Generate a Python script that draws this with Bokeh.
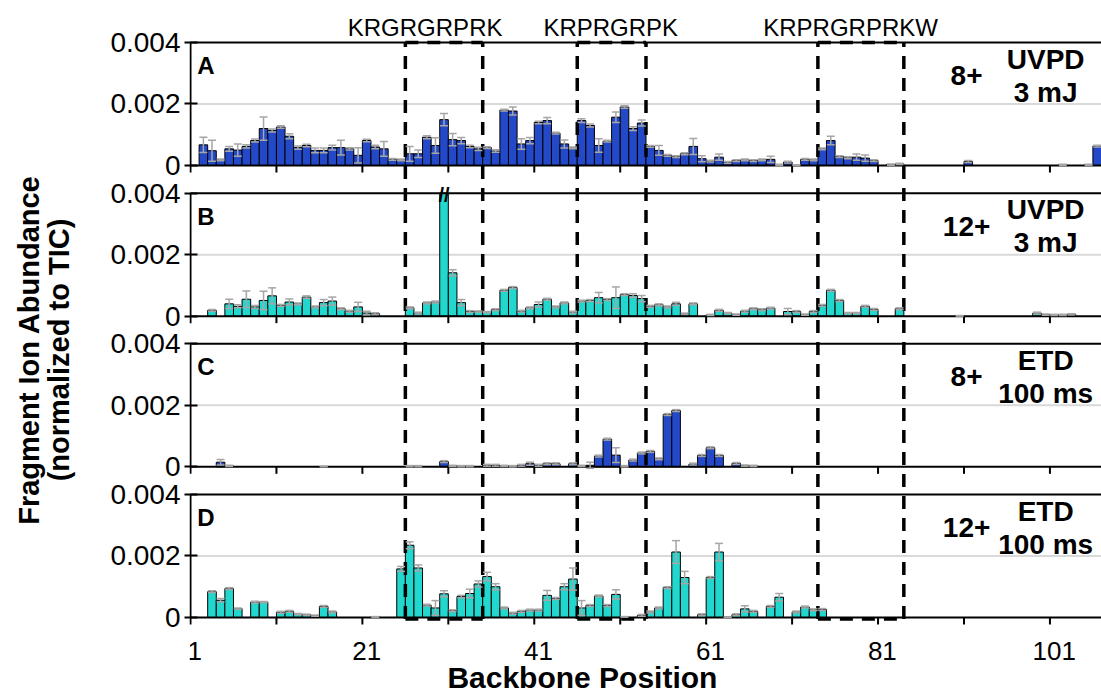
import numpy as np
from bokeh.plotting import figure
from bokeh.models import ColumnDataSource, Whisker, TeeHead, FixedTicker, Label, Range1d
from bokeh.embed import file_html
from bokeh.resources import INLINE

positions = list(range(1, 107))

# Fragment ion abundance (normalized to TIC), in units of 1e-4, positions 1..106
uvpd_8 = [
    0, 6.7, 4.8, 1.8, 5.4, 5.0, 6.2, 8.1, 12.0, 11.4,
    12.5, 9.5, 5.8, 6.5, 4.9, 4.9, 5.8, 5.8, 5.4, 3.3,
    8.1, 6.0, 5.4, 2.0, 1.8, 3.8, 3.8, 9.2, 6.5, 14.9,
    8.4, 8.1, 6.2, 5.4, 5.8, 4.7, 18.0, 17.7, 7.0, 8.1,
    14.0, 14.6, 10.5, 7.0, 5.7, 14.6, 13.0, 6.5, 7.9, 15.7,
    19.0, 12.0, 13.8, 6.2, 4.9, 3.3, 2.9, 3.8, 6.2, 2.2,
    1.4, 2.7, 1.0, 1.6, 1.8, 1.6, 1.8, 2.0, 0.2, 1.1,
    0.1, 2.0, 1.8, 5.4, 8.1, 2.9, 2.5, 2.7, 2.4, 1.6,
    0, 0.3, 0.5, 0, 0, 0, 0, 0, 0, 0,
    1.3, 0, 0, 0, 0, 0, 0, 0, 0, 0,
    0, 0.2, 0, 0, 0.2, 6.3]
uvpd_8_err = [
    0, 2.5, 3.4, 0.3, 0.8, 2.0, 0.5, 0.5, 3.8, 0.5,
    0.4, 0.8, 0.5, 0.4, 0.8, 0.8, 0.8, 2.4, 0.4, 2.5,
    0.4, 0.6, 2.4, 0.3, 0.3, 2.4, 1.2, 0.5, 2.5, 2.0,
    2.0, 1.0, 0.4, 0.5, 0.3, 0.4, 0.3, 1.3, 1.7, 1.0,
    0.4, 1.0, 0.3, 1.3, 0.3, 0.6, 0.5, 2.2, 0.3, 1.7,
    0.4, 0.6, 1.0, 0.3, 1.6, 0.3, 0.3, 0.3, 2.6, 1.0,
    0.3, 1.0, 0.3, 0.3, 0.3, 0.3, 0.3, 1.0, 0.2, 0.3,
    0.1, 0.3, 0.3, 0.3, 1.4, 0.3, 0.3, 1.0, 1.0, 0.3,
    0, 0.2, 0.2, 0, 0, 0, 0, 0, 0, 0,
    0.3, 0, 0, 0, 0, 0, 0, 0, 0, 0,
    0, 0.2, 0, 0, 0.2, 0.3]

uvpd_12 = [
    0, 0, 1.9, 0, 4.0, 3.2, 5.5, 3.0, 5.1, 6.6,
    3.5, 4.6, 4.0, 6.2, 3.0, 4.4, 4.9, 2.4, 1.6, 3.0,
    1.0, 0.8, 0, 0, 0, 2.7, 1.0, 4.3, 4.6, 45.0,
    14.1, 4.4, 1.5, 1.5, 1.3, 2.1, 8.4, 9.3, 1.6, 2.7,
    3.8, 5.5, 3.0, 4.3, 1.3, 4.9, 5.1, 6.0, 5.4, 6.0,
    7.0, 6.7, 5.7, 3.2, 3.7, 3.0, 4.0, 0.8, 4.0, 0,
    0.4, 1.9, 1.0, 0.5, 1.6, 2.4, 2.1, 2.6, 0, 1.5,
    1.5, 0.5, 1.5, 3.5, 8.4, 5.1, 1.0, 1.0, 3.2, 2.2,
    0, 0, 2.4, 0, 0, 0, 0, 0, 0, 0.1,
    0, 0, 0, 0, 0, 0, 0, 0, 1.0, 0.5,
    0.4, 0.4, 0.6, 0, 0, 0]
uvpd_12_err = [
    0, 0, 0.3, 0, 1.5, 0.5, 2.7, 0.5, 3.0, 2.6,
    0.3, 1.0, 0.3, 0.4, 0.3, 1.0, 1.3, 0.3, 0.3, 1.5,
    0.6, 0.3, 0, 0, 0, 0.3, 0.3, 0.3, 0.3, 0,
    1.0, 1.0, 0.3, 0.2, 0.2, 0.3, 0.3, 0.3, 0.3, 0.3,
    0.8, 0.3, 0.3, 0.3, 0.3, 0.3, 0.3, 1.7, 0.3, 3.5,
    0.3, 0.6, 1.0, 0.3, 0.3, 0.3, 0.5, 0.2, 0.3, 0,
    0.2, 0.3, 0.2, 0.2, 0.3, 0.3, 0.3, 0.3, 0, 1.0,
    0.3, 0.2, 0.3, 0.3, 0.3, 0.3, 0.2, 0.2, 0.3, 0.3,
    0, 0, 0.3, 0, 0, 0, 0, 0, 0, 0.1,
    0, 0, 0, 0, 0, 0, 0, 0, 0.3, 0.2,
    0.2, 0.2, 0.2, 0, 0, 0]

etd_8 = [
    0, 0, 0, 1.5, 0.3, 0, 0, 0, 0, 0,
    0, 0, 0, 0, 0, 0.1, 0, 0, 0, 0,
    0, 0, 0, 0, 0, 0.2, 0.2, 0, 0, 1.7,
    0.3, 0.2, 0.2, 0, 0.5, 0.5, 0.3, 0.2, 0.5, 1.0,
    0.5, 1.0, 1.0, 0, 1.0, 0.3, 0.5, 3.5, 9.0, 3.8,
    0.2, 2.2, 4.5, 5.0, 2.6, 17.0, 18.3, 0, 0.9, 3.7,
    6.2, 3.7, 0, 1.1, 0.4, 0.3, 0, 0, 0, 0,
    0, 0, 0, 0, 0, 0, 0, 0, 0, 0,
    0, 0, 0, 0, 0, 0, 0, 0, 0, 0,
    0, 0, 0, 0, 0, 0, 0, 0, 0, 0,
    0, 0, 0, 0, 0, 0]
etd_8_err = [
    0, 0, 0, 0.9, 0.2, 0, 0, 0, 0, 0,
    0, 0, 0, 0, 0, 0.1, 0, 0, 0, 0,
    0, 0, 0, 0, 0, 0.2, 0.2, 0, 0, 0.3,
    0.2, 0.2, 0.2, 0, 0.3, 0.3, 0.2, 0.2, 0.3, 0.5,
    0.3, 0.3, 0.3, 0, 0.3, 0.2, 1.0, 0.3, 0.3, 2.4,
    0.2, 0.3, 0.3, 0.3, 0.3, 0.3, 0.3, 0, 0.3, 0.3,
    0.3, 0.3, 0, 0.3, 0.2, 0.2, 0, 0, 0, 0,
    0, 0, 0, 0, 0, 0, 0, 0, 0, 0,
    0, 0, 0, 0, 0, 0, 0, 0, 0, 0,
    0, 0, 0, 0, 0, 0, 0, 0, 0, 0,
    0, 0, 0, 0, 0, 0]

etd_12 = [
    0, 0, 8.4, 5.6, 9.4, 2.9, 0, 5.0, 5.0, 0,
    1.7, 2.0, 1.1, 0.9, 0.6, 3.6, 1.8, 0, 0, 0,
    0, 0.2, 0, 0, 15.8, 23.5, 16.1, 4.0, 3.1, 7.7,
    2.2, 6.8, 7.8, 10.9, 13.3, 10.0, 3.1, 1.4, 2.0, 2.4,
    2.4, 7.2, 6.2, 10.0, 12.5, 3.1, 3.9, 7.0, 3.9, 7.5,
    0.2, 0, 0.7, 1.8, 3.1, 9.7, 21.3, 13.0, 0, 0.9,
    13.0, 21.3, 0.1, 0.9, 2.8, 2.0, 0, 3.6, 6.6, 0,
    1.8, 3.4, 2.5, 2.6, 0, 0, 0, 0, 0, 0,
    0, 0, 0, 0, 0, 0, 0, 0, 0, 0,
    0, 0, 0, 0, 0, 0, 0, 0, 0, 0,
    0, 0, 0, 0, 0, 0]
etd_12_err = [
    0, 0, 0.3, 0.6, 0.3, 0.2, 0, 0.3, 0.2, 0,
    0.3, 0.3, 0.2, 0.2, 0.2, 0.3, 0.3, 0, 0, 0,
    0, 0.1, 0, 0, 0.8, 1.1, 1.0, 0.3, 2.4, 1.0,
    0.3, 0.4, 1.4, 1.0, 1.4, 1.0, 0.3, 0.3, 0.3, 0.3,
    0.3, 1.6, 0.3, 1.0, 3.6, 2.4, 0.3, 0.3, 0.3, 1.5,
    0.1, 0, 0.3, 0.3, 0.3, 0.3, 3.7, 2.0, 0, 0.3,
    0.3, 2.8, 0.1, 0.3, 1.0, 0.3, 0, 0.3, 1.2, 0,
    0.3, 0.3, 0.3, 0.3, 0, 0, 0, 0, 0, 0,
    0, 0, 0, 0, 0, 0, 0, 0, 0, 0,
    0, 0, 0, 0, 0, 0, 0, 0, 0, 0,
    0, 0, 0, 0, 0, 0]

series = [uvpd_8, uvpd_12, etd_8, etd_12]
series_err = [uvpd_8_err, uvpd_12_err, etd_8_err, etd_12_err]
panel_letters = ["A", "B", "C", "D"]
charge_states = ["8+", "12+", "8+", "12+"]
methods = ["UVPD", "UVPD", "ETD", "ETD"]
settings = ["3 mJ", "3 mJ", "100 ms", "100 ms"]
bar_colors = ["#2348C8", "#22D8CE", "#2348C8", "#22D8CE"]

box_start = [26, 46, 74]
box_end = [34, 53, 83]
box_seq = ["KRGRGRPRK", "KRPRGRPK", "KRPRGRPRKW"]
box_label_x = [27.8, 49.4, 77.3]

x_tick_labels = [1, 21, 41, 61, 81, 101]
x_minor = [0.5, 10.5, 20.5, 30.5, 40.5, 50.5, 60.5, 70.5, 80.5, 90.5, 100.5]
y_tick_values = [0, 20, 40]          # in 1e-4 units
y_tick_labels = ["0", "0.002", "0.004"]

# ---- layout constants ----
YMAX = 40
STRIDE = 49
PX = 0.3252    # data units per pixel (vertical)
Y0 = -77 * PX
Y1 = 612 * PX
offsets = [3, 2, 1, 0]
FONT = "Liberation Sans"

p = figure(width=1101, height=694, x_range=Range1d(0.384, 106.5), y_range=Range1d(Y0, Y1),
           output_backend="svg", toolbar_location=None, x_axis_location=None,
           min_border_left=189, min_border_right=0, min_border_top=5, min_border_bottom=0)
p.grid.visible = False
p.outline_line_color = None
p.background_fill_color = "white"
p.border_fill_color = "white"

range_names = []
for letter, off in zip(panel_letters, offsets):
    if off == 0:
        range_names.append("default")
    else:
        p.extra_y_ranges[letter] = Range1d(Y0 - off * STRIDE, Y1 - off * STRIDE)
        range_names.append(letter)

# y axis
ticks, overrides = [], {}
for off in offsets:
    for v, lab in zip(y_tick_values, y_tick_labels):
        t = off * STRIDE + v
        ticks.append(t)
        overrides[t] = lab
yax = p.yaxis[0]
yax.ticker = FixedTicker(ticks=ticks, minor_ticks=[])
yax.major_label_overrides = overrides
yax.axis_line_color = None
yax.major_tick_line_color = "black"
yax.major_tick_line_width = 2
yax.major_tick_in = 8
yax.major_tick_out = 5
yax.minor_tick_line_color = None
yax.major_label_text_font = FONT
yax.major_label_text_font_size = "28px"
yax.major_label_text_color = "black"
yax.major_label_standoff = 4
yax.axis_label = "Fragment Ion Abundance\n(normalized to TIC)"
yax.axis_label_text_font = FONT
yax.axis_label_text_font_style = "bold"
yax.axis_label_text_font_size = "29px"
yax.axis_label_text_line_height = 0.95
yax.axis_label_text_color = "black"
yax.axis_label_standoff = 32

x_lo, x_hi = 0.5, 106.5
for i, rn in enumerate(range_names):
    vals = np.array(series[i], dtype=float)
    errs = np.array(series_err[i], dtype=float)
    pos = np.array(positions)
    shown = np.minimum(vals, YMAX)      # axis break: bars above the panel are cut
    p.segment(x0=[x_lo], y0=[20], x1=[x_hi], y1=[20], y_range_name=rn,
              line_color="#D9D9D9", line_width=2)
    mask = vals > 0
    src = ColumnDataSource(dict(x=pos[mask], top=shown[mask]))
    p.vbar(x="x", top="top", bottom=0, width=1.0, source=src, y_range_name=rn,
           fill_color=bar_colors[i], line_color="black", line_width=1)
    emask = mask & (errs > 0) & (vals <= YMAX)
    esrc = ColumnDataSource(dict(x=pos[emask], upper=(vals + errs)[emask],
                                 lower=(vals - errs)[emask]))
    w = Whisker(source=esrc, base="x", upper="upper", lower="lower", dimension="height",
                y_range_name=rn, line_color="#A6A6A6", line_width=1.5, level="annotation",
                upper_head=TeeHead(size=8, line_color="#A6A6A6", line_width=1.5),
                lower_head=TeeHead(size=8, line_color="#A6A6A6", line_width=1.5))
    p.add_layout(w)
    p.segment(x0=[x_lo, x_lo, x_lo], y0=[0, YMAX, 0], x1=[x_hi, x_hi, x_lo], y1=[0, YMAX, YMAX],
              y_range_name=rn, line_color="black", line_width=2)
    p.segment(x0=x_minor, y0=[0] * len(x_minor), x1=x_minor, y1=[-7 * PX] * len(x_minor),
              y_range_name=rn, line_color="black", line_width=2)
    for xv, v in zip(pos, vals):
        if v > YMAX:
            p.add_layout(Label(x=xv, y=YMAX - 0.5, text="//", y_range_name=rn,
                               text_align="center", text_baseline="middle",
                               text_font=FONT, text_font_size="20px", text_font_style="bold",
                               text_color="black"))
    p.add_layout(Label(x=1.3, y=32.5, text=panel_letters[i], y_range_name=rn,
                       text_align="left", text_baseline="middle", text_font=FONT,
                       text_font_size="24px", text_font_style="bold", text_color="black"))
    p.add_layout(Label(x=90.8, y=29.3, text=charge_states[i], y_range_name=rn,
                       text_align="center", text_baseline="middle", text_font=FONT,
                       text_font_size="28px", text_font_style="bold", text_color="black"))
    p.add_layout(Label(x=100.0, y=34.6, text=methods[i], y_range_name=rn,
                       text_align="center", text_baseline="middle", text_font=FONT,
                       text_font_size="28px", text_font_style="bold", text_color="black"))
    p.add_layout(Label(x=100.0, y=23.8, text=settings[i], y_range_name=rn,
                       text_align="center", text_baseline="middle", text_font=FONT,
                       text_font_size="28px", text_font_style="bold", text_color="black"))

# dashed sequence boxes spanning all panels
top_main = offsets[0] * STRIDE + YMAX
left_edges = [s - 0.5 for s in box_start]
right_edges = [e + 0.5 for e in box_end]
vx = left_edges + right_edges
p.segment(x0=vx, y0=[-0.5] * len(vx), x1=vx, y1=[top_main] * len(vx),
          line_color="black", line_width=3.5, line_dash="13 9")
p.segment(x0=left_edges + left_edges, y0=[top_main] * 3 + [-0.5] * 3,
          x1=right_edges + right_edges, y1=[top_main] * 3 + [-0.5] * 3,
          line_color="black", line_width=3.5, line_dash="13 9")
for lx, seq in zip(box_label_x, box_seq):
    p.add_layout(Label(x=lx, y=top_main + 15 * PX, text=seq, text_align="center",
                       text_baseline="middle", text_font=FONT, text_font_size="24px",
                       text_color="black"))

# x tick labels and x-axis title (inside the extended frame)
for t in x_tick_labels:
    p.add_layout(Label(x=t, y=-33 * PX, text=str(t), text_align="center",
                       text_baseline="middle", text_font=FONT, text_font_size="26px",
                       text_color="black"))
p.add_layout(Label(x=46.1, y=-60 * PX, text="Backbone Position", text_align="center",
                   text_baseline="middle", text_font=FONT, text_font_size="30px",
                   text_font_style="bold", text_color="black"))

open("out.html", "w").write(file_html(p, INLINE))
